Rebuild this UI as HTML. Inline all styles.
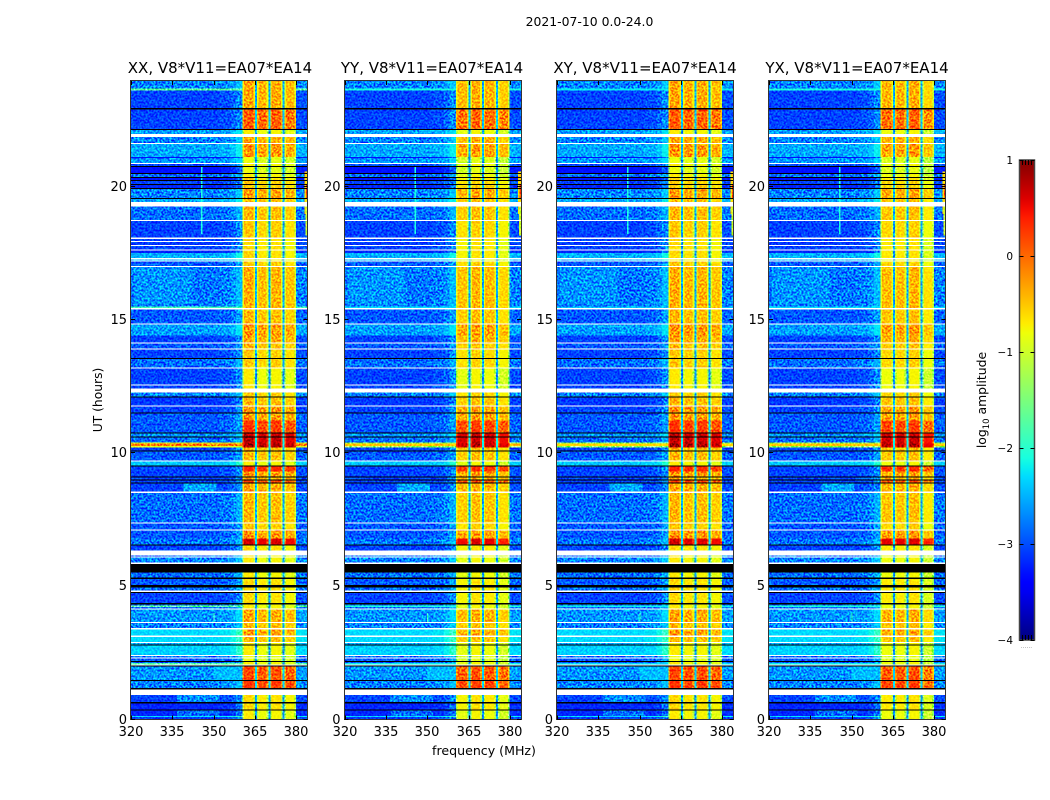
<!DOCTYPE html>
<html>
<head>
<meta charset="utf-8">
<title>2021-07-10 0.0-24.0</title>
<style>
html,body{margin:0;padding:0;background:#fff;}
svg{display:block;}
text{font-family:"DejaVu Sans","Liberation Sans",sans-serif;fill:#000;}
.cell{shape-rendering:crispEdges;}
</style>
</head>
<body>
<svg id="chart" xmlns="http://www.w3.org/2000/svg" width="1050" height="800" viewBox="0 0 1050 800">
  <defs>
    <filter id="speckle" x="0" y="0" width="100%" height="100%" color-interpolation-filters="sRGB">
      <feTurbulence type="fractalNoise" baseFrequency="0.5" numOctaves="2" seed="7"/>
      <feColorMatrix type="matrix" values="3 0 0 0 -1  3 0 0 0 -1  3 0 0 0 -1  0 0 0 0 1"/>
    </filter>
    <linearGradient id="jet-gradient" x1="0" y1="1" x2="0" y2="0"></linearGradient>
  </defs>
  <rect x="0" y="0" width="1050" height="800" fill="#fff"/>
  <text x="589.5" y="26" font-size="12.4" text-anchor="middle">2021-07-10 0.0-24.0</text>
  <text x="220" y="73" font-size="15" text-anchor="middle">XX, V8*V11=EA07*EA14</text>
  <text x="432" y="73" font-size="15" text-anchor="middle">YY, V8*V11=EA07*EA14</text>
  <text x="645" y="73" font-size="15" text-anchor="middle">XY, V8*V11=EA07*EA14</text>
  <text x="857" y="73" font-size="15" text-anchor="middle">YX, V8*V11=EA07*EA14</text>
  <text x="0" y="0" font-size="12.3" text-anchor="middle" transform="translate(102,400) rotate(-90)">UT (hours)</text>
  <text x="484" y="755" font-size="12.6" text-anchor="middle">frequency (MHz)</text>
  <text x="0" y="0" font-size="12.4" text-anchor="middle" transform="translate(986,400) rotate(-90)">log<tspan font-size="8.5" dy="3">10</tspan><tspan dy="-3"> amplitude</tspan></text>
  <g id="panels"></g>
  <g id="colorbar"></g>
</svg>
<script>
const W = null;   // flagged (white)
const K = -9;     // zero amplitude (black)

// Time rows: top edge of every row in UT hours, last entry closes the final row.
const utEdges = [
  24,23.71,23.64,22.98,22.93,22.20,22.16,22.01,21.89,21.67,
  21.63,21.14,21.11,20.92,20.88,20.81,20.77,20.54,20.51,20.39,
  20.36,20.28,20.24,20.13,20.09,19.98,19.94,19.61,19.57,19.46,
  19.29,18.78,18.74,18.11,18.07,17.98,17.94,17.83,17.79,17.67,
  17.64,17.54,17.35,17.30,17.26,17.22,17.05,17.02,15.52,15.46,
  15.42,14.88,14.84,14.43,14.17,14.13,13.94,13.90,13.58,13.55,
  13.23,13.19,12.59,12.55,12.44,12.29,12.14,12.10,11.80,11.76,
  11.54,11.50,11.24,10.79,10.75,10.64,10.60,10.41,10.37,10.28,
  10.23,10.11,10.08,9.74,9.70,9.55,9.51,9.32,9.14,9.10,
  9.02,8.98,8.91,8.87,8.57,8.52,7.41,7.37,7.15,7.11,
  6.81,6.58,6.55,6.36,6.17,6.13,6.10,5.91,5.85,5.52,
  5.33,5.29,5.05,4.97,4.84,4.80,4.77,4.37,4.33,4.28,
  4.22,4.17,4.13,3.66,3.62,3.43,3.40,3.15,3.11,2.91,
  2.87,2.81,2.78,2.42,2.38,2.33,2.29,2.20,2.16,2.12,
  2.06,2.03,1.99,1.48,1.44,1.18,1.13,0.92,0.66,0.60,
  0.38,0.34,0.13,0.09,0
];
// log10 amplitude of the off-band background per row.
const bgLevels = [
  -2.75,-1.7,-3.05,K,-3.05,K,-2.6,W,-2.75,W,
  -2.55,-3.3,-2.65,W,-3,K,-3.3,K,-2.85,K,
  -3.3,K,-3.05,K,-3.2,K,-2.75,K,-2.55,W,
  -2.85,W,-3.05,W,-3.05,W,-3.1,W,-3.05,W,
  -3.2,-2.5,W,-2.5,W,-2.95,W,-2.8,-1.9,W,
  -2.95,W,-2.6,-3.05,W,-2.95,W,-3.05,K,-2.85,
  W,-3.05,W,-3.05,W,-2.75,K,-3.1,W,-3.05,
  K,-2.95,-2.95,K,-2.65,K,-2.85,-0.9,-0.1,-0.9,
  -3.05,K,-2.95,W,-2.4,K,-3.05,-3.05,K,-3.05,
  K,-3.05,K,-3.05,W,-2.85,W,-2.95,W,-2.95,
  -2.8,K,-3.05,W,-2.85,W,-2.75,W,K,-2.85,
  K,-2.95,K,-2.85,W,K,-3.05,K,-2.85,-1.7,
  -2.85,W,-2.65,W,-2.75,W,-2.3,W,-2.3,W,
  -2.55,K,-2.35,W,-2.85,W,-2.95,K,-2.95,-1.8,
  W,K,-2.65,K,-2.75,K,W,-3.05,K,-3.2,
  K,-3.2,-2.3,-3.1
];
// log10 amplitude at the centre of the spectral windows per row.
const bandLevels = [
  -0.2,-0.2,-0.2,0,0.2,0,-0.6,0,-0.2,0,
  -0.1,-0.7,-0.7,0,-0.6,0,-0.7,0,-0.6,0,
  -0.5,0,-0.4,0,-0.4,0,-0.15,0,-0.3,0,
  -0.3,0,-0.4,0,-0.5,0,-0.5,0,-0.5,0,
  -0.5,-0.5,0,-0.6,0,-0.4,0,-0.25,-0.25,0,
  -0.3,0,-0.1,-0.2,0,-0.3,0,-0.4,0,-0.4,
  0,-0.6,0,-0.6,0,-0.4,0,-0.3,0,-0.1,
  0,-0.1,0.4,0,0.85,0,0.85,0.85,0.95,0.95,
  -0.3,0,-0.3,0,-0.6,0,0.5,-0.1,0,-0.2,
  0,0.35,0,-0.2,0,-0.3,0,-0.4,0,-0.1,
  0.75,0,-0.5,0,-0.6,0,-0.6,0,0,-0.6,
  0,-0.5,0,-0.5,0,0,-0.5,0,-0.6,-0.6,
  -0.6,0,-0.2,0,-0.3,0,-0.15,0,-0.3,0,
  -0.6,0,-0.6,0,-0.7,0,-0.7,0,-0.6,-0.6,
  0,0,0.3,0,0.4,0,0,-0.5,0,-0.5,
  0,-0.6,-0.6,-0.6
];

// Frequency bins (MHz), what each bin belongs to, and its level offset.
const freqEdges = [320,352,356,358,360.4,361,364.4,365,365.6,366.2,369.2,369.8,370.5,371,374.3,374.9,375.6,376.2,379.3,379.9,384];
const binKinds  = ['b','b','b','b',0,0,0,'g',1,1,1,'g',2,2,2,'g',3,3,3,'r'];
const binOffsets = [0,0.05,0.15,0.35,-0.55,-0.15,-0.55,0,-0.55,-0.15,-0.55,0,-0.55,-0.15,-0.55,0,-0.55,-0.15,-0.6,0.05];

// Per-polarisation gain of each spectral window, and of bright RFI lines.
const gainXX = [0.05,-0.05,0,-0.1];
const gainYY = [-0.1,0,-0.05,-0.2];
const gainXY = [0.05,0,0,-0.1];
const gainYX = [-0.05,-0.05,0,-0.25];
const lineOffsets = [0,-0.4,-0.5,-0.4];

// Localised features: patches and spurs on top of the row/bin grid.
const patchFreqStart = [345.3,349.9,336.6,336.6,339,321,350,383,383.3,383.5];
const patchFreqEnd   = [345.9,350.3,352,352,351,342,360.4,384,384,384];
const patchUtStart   = [20.77,4.0,0.92,0.34,8.87,17.0,1.99,20.6,19.29,20.1];
const patchUtEnd     = [18.25,3.66,0.66,0.13,8.57,15.6,1.44,19.0,18.2,19.6];
const patchLevels    = [-2.1,-1.9,-2.7,-2.85,-2.55,-2.65,-2.45,-0.6,-1.0,0.2];

// Tick labels.
const xTickValues = [320,335,350,365,380];
const yTickValues = [0,5,10,15,20];
const colorbarTicks = [1,0,-1,-2,-3,-4];
const colorbarMinorTicks = [0.2,0.4,0.6,0.8];

const NS = 'http://www.w3.org/2000/svg';
const gains = [gainXX, gainYY, gainXY, gainYX];
const panelNames = ['xx','yy','xy','yx'];
const panelLefts = [131,344.5,557,769];
const panelWidth = 176.5;
const panelTop = 81, panelBottom = 719.5;
const cbarX = 1019.5, cbarW = 15, cbarTop = 160, cbarBottom = 640;

function xScale(panel, f){ return panelLefts[panel] + (f - 320) / 64 * panelWidth; }
function yScale(ut){ return panelBottom - (ut / 24) * (panelBottom - panelTop); }
function cbarScale(v){ return cbarBottom - (v + 4) / 5 * (cbarBottom - cbarTop); }

function interp(pts, t){
  for (let i = 1; i < pts.length; i++) {
    if (t <= pts[i][0]) {
      const a = pts[i-1], b = pts[i];
      return a[1] + (b[1]-a[1]) * (t-a[0]) / (b[0]-a[0]);
    }
  }
  return pts[pts.length-1][1];
}
function jet(v){
  const t = Math.max(0, Math.min(1, (v + 4) / 5));
  const r = interp([[0,0],[0.35,0],[0.66,1],[0.89,1],[1,0.5]], t);
  const g = interp([[0,0],[0.125,0],[0.375,1],[0.64,1],[0.91,0],[1,0]], t);
  const b = interp([[0,0.5],[0.11,1],[0.34,1],[0.65,0],[1,0]], t);
  return 'rgb(' + Math.round(r*255) + ',' + Math.round(g*255) + ',' + Math.round(b*255) + ')';
}
function cellValue(panel, row, bin){
  const kind = binKinds[bin];
  const bg = bgLevels[row], band = bandLevels[row];
  if (kind === 'b' || kind === 'r') {
    if (bg > -2) return bg + lineOffsets[panel];
    return bg + binOffsets[bin];
  }
  if (kind === 'g') return -2.45 + band * 0.3;
  return band + binOffsets[bin] + gains[panel][kind];
}
function makeRect(x, y, w, h, fill){
  const r = document.createElementNS(NS, 'rect');
  r.setAttribute('x', x.toFixed(2));
  r.setAttribute('y', y.toFixed(2));
  r.setAttribute('width', w.toFixed(2));
  r.setAttribute('height', h.toFixed(2));
  r.setAttribute('fill', fill);
  r.setAttribute('class', 'cell');
  return r;
}
function makeLine(x1, y1, x2, y2, color){
  const l = document.createElementNS(NS, 'line');
  l.setAttribute('x1', x1);
  l.setAttribute('y1', y1);
  l.setAttribute('x2', x2);
  l.setAttribute('y2', y2);
  l.setAttribute('stroke', color || '#000');
  l.setAttribute('stroke-width', '1');
  return l;
}
function makeText(x, y, size, anchor, str){
  const t = document.createElementNS(NS, 'text');
  t.setAttribute('x', x);
  t.setAttribute('y', y);
  t.setAttribute('font-size', size);
  t.setAttribute('text-anchor', anchor);
  t.textContent = str;
  return t;
}

const panelsRoot = document.getElementById('panels');
for (let p = 0; p < panelLefts.length; p++) {
  const g = document.createElementNS(NS, 'g');
  
  
  const frag = document.createDocumentFragment();

  for (let r = 0; r < bgLevels.length; r++) {
    if (bgLevels[r] === W || bgLevels[r] === K) continue;
    const y0 = yScale(utEdges[r]), y1 = yScale(utEdges[r + 1]);
    for (let b = 0; b < binKinds.length; b++) {
      const x0 = xScale(p, freqEdges[b]), x1 = xScale(p, freqEdges[b + 1]);
      const cell = makeRect(x0, y0, x1 - x0, y1 - y0, jet(cellValue(p, r, b)));
      
      
      frag.appendChild(cell);
    }
  }
  for (let i = 0; i < patchLevels.length; i++) {
    const x0 = xScale(p, patchFreqStart[i]), x1 = xScale(p, patchFreqEnd[i]);
    const y0 = yScale(patchUtStart[i]), y1 = yScale(patchUtEnd[i]);
    const patch = makeRect(x0, y0, x1 - x0, y1 - y0, jet(patchLevels[i]));
    
    
    frag.appendChild(patch);
  }

  const noise = document.createElementNS(NS, 'rect');
  
  
  noise.setAttribute('x', panelLefts[p]);
  noise.setAttribute('y', panelTop);
  noise.setAttribute('width', panelWidth);
  noise.setAttribute('height', panelBottom - panelTop);
  noise.setAttribute('filter', 'url(#speckle)');
  noise.setAttribute('style', 'mix-blend-mode:overlay');
  noise.setAttribute('opacity', '0.85');
  frag.appendChild(noise);

  for (let r = 0; r < bgLevels.length; r++) {
    if (bgLevels[r] !== W && bgLevels[r] !== K) continue;
    const y0 = yScale(utEdges[r]), y1 = yScale(utEdges[r + 1]);
    const flag = makeRect(panelLefts[p], y0, panelWidth, Math.max(1, y1 - y0), bgLevels[r] === W ? '#fff' : '#000');
    
    
    frag.appendChild(flag);
  }

  const frame = document.createElementNS(NS, 'rect');
  
  
  frame.setAttribute('x', Math.round(panelLefts[p]) - 0.5);
  frame.setAttribute('y', panelTop - 0.5);
  frame.setAttribute('width', Math.round(panelWidth));
  frame.setAttribute('height', panelBottom - panelTop + 0.5);
  frame.setAttribute('fill', 'none');
  frame.setAttribute('stroke', '#333');
  frame.setAttribute('stroke-width', '1');
  frag.appendChild(frame);

  xTickValues.forEach(function (v) {
    const x = Math.round(xScale(p, v)) + 0.5;
    const tb = makeLine(x, panelBottom, x, panelBottom - 4);
    
    
    frag.appendChild(tb);
    const tt = makeLine(x, panelTop, x, panelTop + 4);
    
    
    frag.appendChild(tt);
    const lab = makeText(x - 0.5, 736, 13, 'middle', String(v));
    
    
    frag.appendChild(lab);
  });
  yTickValues.forEach(function (v) {
    const y = Math.round(yScale(v)) - 0.5;
    const tl = makeLine(panelLefts[p], y, panelLefts[p] + 4, y);
    
    
    frag.appendChild(tl);
    const tr = makeLine(panelLefts[p] + panelWidth - 4, y, panelLefts[p] + panelWidth, y);
    
    
    frag.appendChild(tr);
    const lab = makeText(panelLefts[p] - 4, y + 4.5, 13, 'end', String(v));
    
    
    frag.appendChild(lab);
  });

  g.appendChild(frag);
  panelsRoot.appendChild(g);
}

// Colorbar
const grad = document.getElementById('jet-gradient');
for (let i = 0; i <= 50; i++) {
  const stop = document.createElementNS(NS, 'stop');
  stop.setAttribute('offset', (i / 50).toFixed(3));
  stop.setAttribute('stop-color', jet(-4 + i / 10));
  grad.appendChild(stop);
}
const cb = document.getElementById('colorbar');
const bar = document.createElementNS(NS, 'rect');


bar.setAttribute('x', cbarX);
bar.setAttribute('y', cbarTop);
bar.setAttribute('width', cbarW);
bar.setAttribute('height', cbarBottom - cbarTop);
bar.setAttribute('fill', 'url(#jet-gradient)');
bar.setAttribute('stroke', '#444');
bar.setAttribute('stroke-width', '1.5');
cb.appendChild(bar);
colorbarTicks.forEach(function (v) {
  const y = Math.round(cbarScale(v)) + 0.5;
  const t1 = makeLine(cbarX, y, cbarX + 4, y);
  
  
  cb.appendChild(t1);
  const t2 = makeLine(cbarX + cbarW - 4, y, cbarX + cbarW, y);
  
  
  cb.appendChild(t2);
  const lab = makeText(1013, y + 3.5, 10.5, 'end', (v < 0 ? '\u2212' + (-v) : String(v)));
  
  
  cb.appendChild(lab);
});
colorbarMinorTicks.forEach(function (f) {
  const x = cbarX + f * cbarW;
  const top = makeLine(x, cbarTop, x, cbarTop + 5);
  
  
  cb.appendChild(top);
  const bot = makeLine(x, cbarBottom - 5, x, cbarBottom);
  
  
  cb.appendChild(bot);
});
const dots = makeText(1026.5, 648, 6, 'middle', '......');


dots.setAttribute('style', 'fill:#888');
cb.appendChild(dots);
</script>
</body>
</html>
